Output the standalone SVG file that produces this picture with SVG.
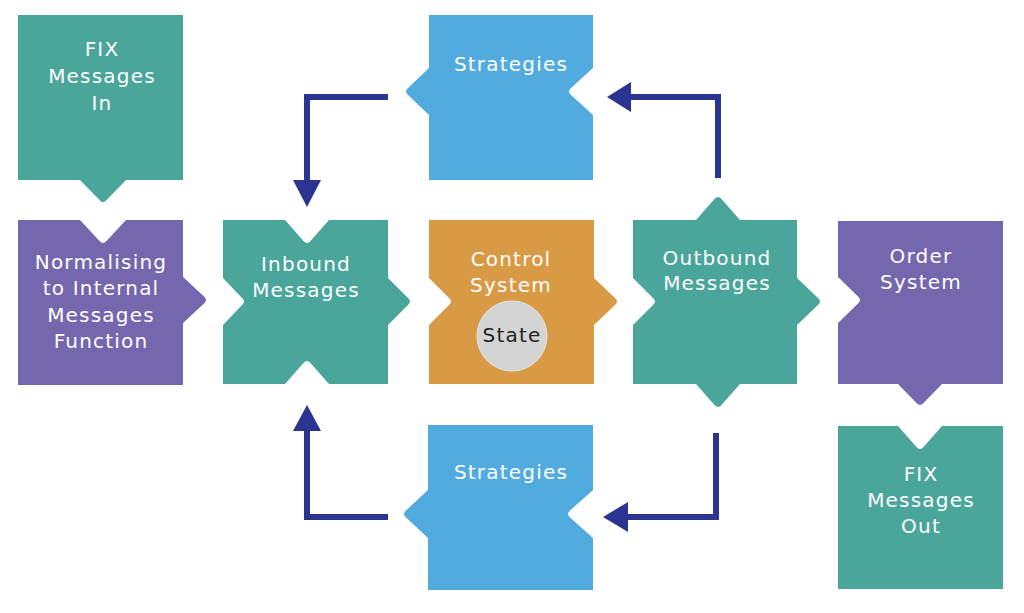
<svg xmlns="http://www.w3.org/2000/svg" width="1024" height="613" viewBox="0 0 1024 613">
<style>
.teal{fill:#4aa59a}
.purple{fill:#7467ad}
.orange{fill:#d99a46}
.blue{fill:#52abdf}
.lbl{font-family:"DejaVu Sans","Open Sans",sans-serif;font-size:20px;letter-spacing:1.2px;fill:#ffffff;text-anchor:middle}
.dark{fill:#222222}
.conn{fill:none;stroke:#2b3591;stroke-width:6;stroke-linejoin:miter}
.head{fill:#2b3591}
</style>
<rect width="1024" height="613" fill="#ffffff"/>
<g id="fix-in">
<path class="teal" d="M18 15 H183 V180 H126 L106.5 200 Q103 204.5 99.5 200 L80 180 H18 Z"/>
<text class="lbl" x="102" y="56">FIX</text>
<text class="lbl" x="102" y="83">Messages</text>
<text class="lbl" x="102" y="110">In</text>
</g>
<g id="normalising">
<path class="purple" d="M18 220 H80 L99.5 241 Q103 245 106.5 241 L126 220 H183 V277 L204 296.5 Q208 300 204 303.5 L183 323 V385 H18 Z"/>
<text class="lbl" x="101" y="269">Normalising</text>
<text class="lbl" x="101" y="295">to Internal</text>
<text class="lbl" x="101" y="322">Messages</text>
<text class="lbl" x="101" y="348">Function</text>
</g>
<g id="inbound">
<path class="teal" d="M223 220 H285 L303.5 241 Q307 245 310.5 241 L329 220 H388 V278 L408 298 Q412 301.5 408 305 L388 325 V384 H329 L310.5 363 Q307 359 303.5 363 L285 384 H223 V325 L242 305 Q246 301.5 242 298 L223 278 Z"/>
<text class="lbl" x="306" y="271">Inbound</text>
<text class="lbl" x="306" y="297">Messages</text>
</g>
<g id="control">
<path class="orange" d="M429 220 H594 V278 L615 298 Q619 301.5 615 305 L594 325 V384 H429 V325 L449 305 Q453 301.5 449 298 L429 278 Z"/>
<text class="lbl" x="511" y="266">Control</text>
<text class="lbl" x="511" y="292">System</text>
<circle cx="512" cy="336" r="35" fill="#d4d4d4" stroke="#e6e6ee" stroke-width="1"/>
<text class="lbl dark" x="512" y="342">State</text>
</g>
<g id="outbound">
<path class="teal" d="M633 220 H696 L714.5 199 Q718 195 721.5 199 L740 220 H797 V278 L818 298 Q822 301.5 818 305 L797 325 V384 H740 L721.5 405 Q718 409 714.5 405 L696 384 H633 V325 L653 305 Q657 301.5 653 298 L633 278 Z"/>
<text class="lbl" x="717" y="265">Outbound</text>
<text class="lbl" x="717" y="290">Messages</text>
</g>
<g id="order">
<path class="purple" d="M838 221 H1003 V384 H942 L923.5 403 Q920 407 916.5 403 L898 384 H838 V323 L858 303.5 Q862 300 858 296.5 L838 277 Z"/>
<text class="lbl" x="921" y="263">Order</text>
<text class="lbl" x="921" y="289">System</text>
</g>
<g id="fix-out">
<path class="teal" d="M838 426 H898 L916.5 447 Q920 451 923.5 447 L942 426 H1003 V589 H838 Z"/>
<text class="lbl" x="921" y="481">FIX</text>
<text class="lbl" x="921" y="507">Messages</text>
<text class="lbl" x="921" y="533">Out</text>
</g>
<g id="strategies-top">
<path class="blue" d="M429 15 H593 V68 L571 88 Q567 91.5 571 95 L593 115 V180 H429 V115 L408 95 Q404 91.5 408 88 L429 68 Z"/>
<text class="lbl" x="511" y="71">Strategies</text>
</g>
<g id="strategies-bottom">
<path class="blue" d="M428 425 H593 V490 L570 510.5 Q566 514 570 517.5 L593 538 V590 H428 V538 L406 517.5 Q402 514 406 510.5 L428 490 Z"/>
<text class="lbl" x="511" y="479">Strategies</text>
</g>
<g id="connectors">
<polyline class="conn" points="388,97 307,97 307,182"/>
<polygon class="head" points="293,180 321,180 307,207"/>
<polyline class="conn" points="718,178 718,97 630,97"/>
<polygon class="head" points="631,82 631,112 607,97"/>
<polyline class="conn" points="388,517 307,517 307,430"/>
<polygon class="head" points="293,431 321,431 307,405"/>
<polyline class="conn" points="716,433 716,517 628,517"/>
<polygon class="head" points="628,502 628,532 603,517"/>
</g>
</svg>
